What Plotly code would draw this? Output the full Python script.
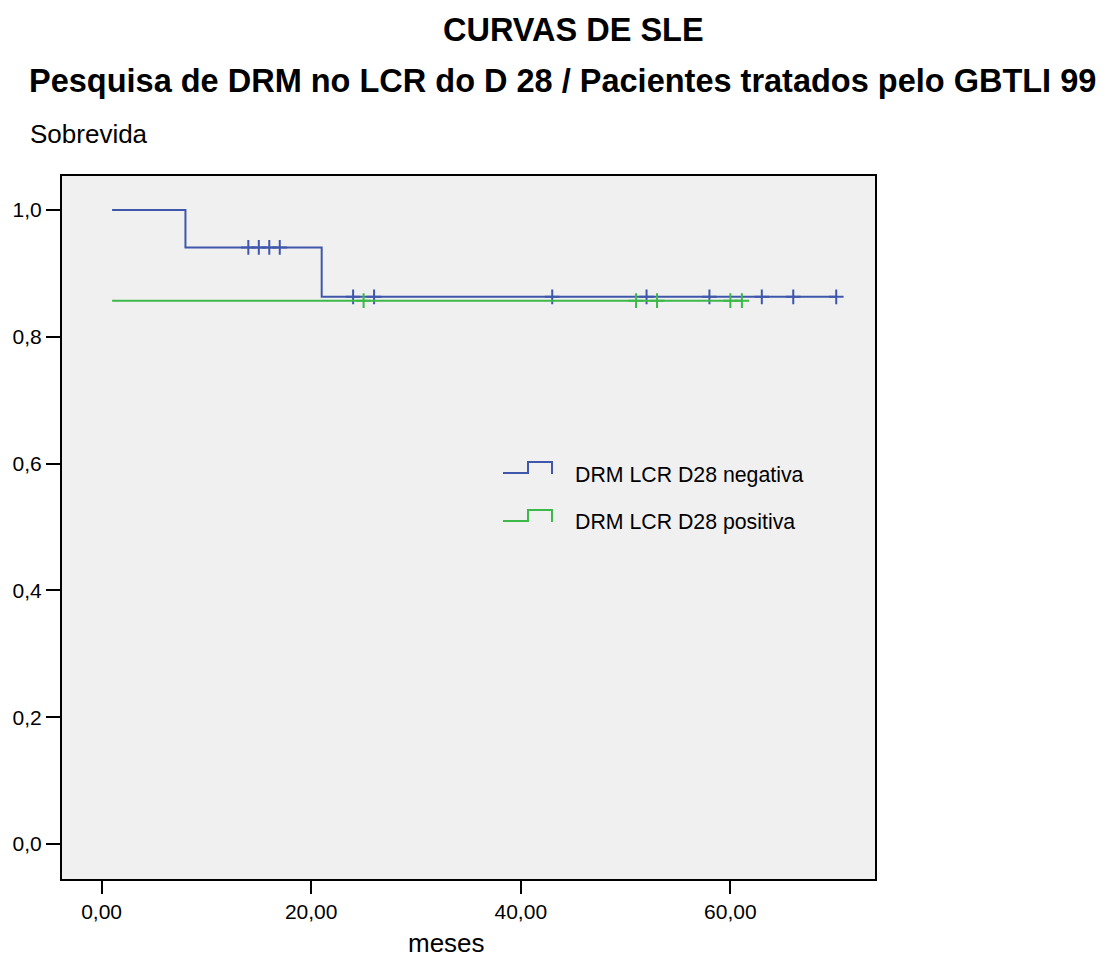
import plotly.graph_objects as go

# ---------------- data ----------------
neg_times = [1, 8, 21, 70.1]
neg_surv = [1.0, 0.941, 0.863, 0.863]
neg_censor = [14, 15, 16, 17, 24, 26, 43, 52, 58, 63, 66, 70.1]

pos_times = [1, 61.1]
pos_surv = [0.857, 0.857]
pos_censor = [25, 51, 53, 60, 61.1]

series_names = ["DRM LCR D28 negativa", "DRM LCR D28 positiva"]
x_tick_vals = [0, 20, 40, 60]
x_tick_text = ["0,00", "20,00", "40,00", "60,00"]
y_tick_vals = [0.0, 0.2, 0.4, 0.6, 0.8, 1.0]
y_tick_text = ["0,0", "0,2", "0,4", "0,6", "0,8", "1,0"]

BLUE = "#3F57AA"
GREEN = "#3DB94A"
FONT = "Arial, 'Liberation Sans', sans-serif"

W, H = 1113, 960
L, R, T, B = 62, 238, 176, 81


def step_value(times, surv, t):
    v = surv[0]
    for ti, si in zip(times, surv):
        if ti <= t:
            v = si
    return v


def px(xp):
    return (xp - L) / (W - L - R)


def py(yp):
    return (H - B - yp) / (H - T - B)


fig = go.Figure()
for times, surv, cens, color, name in [
    (neg_times, neg_surv, neg_censor, BLUE, series_names[0]),
    (pos_times, pos_surv, pos_censor, GREEN, series_names[1]),
]:
    fig.add_trace(go.Scatter(x=times, y=surv, mode="lines", line=dict(color=color, width=2, shape="hv"),
                             name=name, showlegend=False, hoverinfo="skip"))
    fig.add_trace(go.Scatter(x=cens, y=[step_value(times, surv, c) for c in cens], mode="markers",
                             marker=dict(symbol="cross-thin", size=10.5, line=dict(color=color, width=2)),
                             showlegend=False, hoverinfo="skip"))

fig.update_layout(
    width=W, height=H,
    margin=dict(l=L, r=R, t=T, b=B, pad=0),
    paper_bgcolor="white", plot_bgcolor="#F0F0F0",
    font=dict(family=FONT, color="black"),
    showlegend=False,
)
fig.update_xaxes(range=[-3.78, 73.8], tickvals=x_tick_vals, ticktext=x_tick_text,
                 ticks="outside", ticklen=13, tickwidth=2, tickcolor="black",
                 showline=True, linecolor="black", linewidth=2, mirror=True,
                 showgrid=False, zeroline=False, tickfont=dict(size=21, family=FONT))
fig.update_yaxes(range=[-0.0552, 1.0536], tickvals=y_tick_vals, ticktext=y_tick_text,
                 ticks="outside", ticklen=14, tickwidth=2, tickcolor="black",
                 showline=True, linecolor="black", linewidth=2, mirror=True,
                 showgrid=False, zeroline=False, tickfont=dict(size=21, family=FONT))

ann = [
    dict(text="<b>CURVAS DE SLE</b>", x=px(573), y=py(30), size=32.5, xanchor="center"),
    dict(text="<b>Pesquisa de DRM no LCR do D 28 / Pacientes tratados pelo GBTLI 99</b>", x=px(562), y=py(81), size=32.5, xanchor="center"),
    dict(text="Sobrevida", x=px(28), y=py(134), size=26, xanchor="left"),
    dict(text="meses", x=px(446), y=py(943), size=26, xanchor="center"),
    dict(text=series_names[0], x=px(573), y=py(475), size=21.3, xanchor="left"),
    dict(text=series_names[1], x=px(573), y=py(522), size=21.3, xanchor="left"),
]
for a in ann:
    fig.add_annotation(text=a["text"], x=a["x"], y=a["y"], xref="paper", yref="paper",
                       xanchor=a["xanchor"], yanchor="middle", showarrow=False,
                       font=dict(size=a["size"], family=FONT, color="black"))

# legend step icons
for color, ylow in [(BLUE, 473), (GREEN, 521)]:
    path = (f"M{px(503)},{py(ylow)} L{px(528)},{py(ylow)} L{px(528)},{py(ylow - 11)} "
            f"L{px(552)},{py(ylow - 11)} L{px(552)},{py(ylow + 1)}")
    fig.add_shape(type="path", path=path, xref="paper", yref="paper",
                  line=dict(color=color, width=2))

fig.write_html("out.html")
